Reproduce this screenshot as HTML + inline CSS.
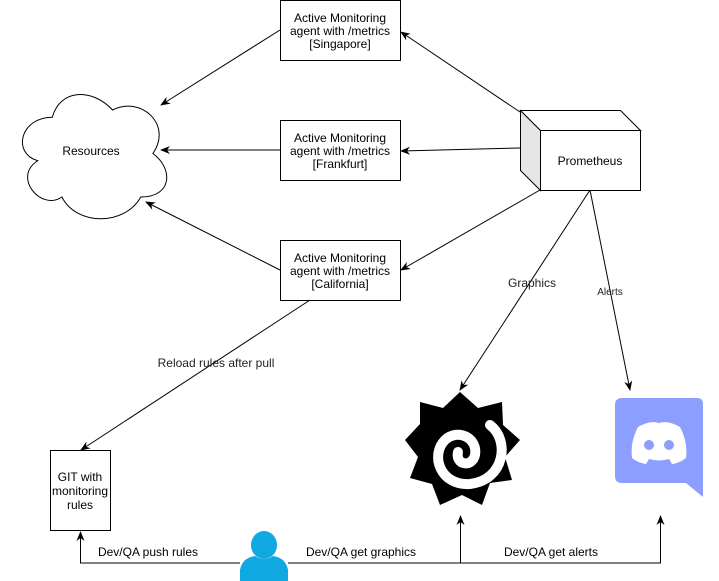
<!DOCTYPE html>
<html><head><meta charset="utf-8"><style>
html,body{margin:0;padding:0;background:#fff;}
svg{display:block;font-family:"Liberation Sans",Arial,sans-serif;}
</style></head><body>
<svg width="719" height="581" viewBox="0 0 719 581" xmlns="http://www.w3.org/2000/svg">
<defs>
<marker id="a" markerWidth="10" markerHeight="10" refX="9" refY="5" orient="auto" markerUnits="userSpaceOnUse">
<path d="M0,1 L10,5 L0,9 L3,5 Z" fill="#000"/>
</marker>
</defs>
<g fill="none" stroke="#000" stroke-width="1">
<path d="M52.25,117.25 C20.05,117.25 12,153.5 37.76,160.75 C12,176.7 40.98,211.5 61.91,197 C76.4,226 124.7,226 140.8,197 C173,197 173,168 152.9,153.5 C173,124.5 140.8,95.5 112.6,110 C92.5,88.25 60.3,88.25 52.25,117.25 Z" fill="#fff"/>
<rect x="280.5" y="0.5" width="120" height="60" fill="#fff"/>
<rect x="280.5" y="120.5" width="120" height="60" fill="#fff"/>
<rect x="280.5" y="240.5" width="120" height="60" fill="#fff"/>
<rect x="50.5" y="450.5" width="60" height="80" fill="#fff"/>
<path d="M520.5,110.5 L540.5,130.5 L540.5,190.5 L520.5,170.5 Z" fill="#e6e6e6"/>
<path d="M520.5,110.5 L620.5,110.5 L640.5,130.5 L540.5,130.5 Z" fill="#fff"/>
<rect x="540.5" y="130.5" width="100" height="60" fill="#fff"/>
<line x1="280" y1="30" x2="161" y2="105" marker-end="url(#a)"/>
<line x1="280" y1="150" x2="161" y2="150" marker-end="url(#a)"/>
<line x1="280" y1="270" x2="146" y2="202" marker-end="url(#a)"/>
<line x1="520" y1="112" x2="401" y2="32" marker-end="url(#a)"/>
<line x1="520" y1="148" x2="401" y2="151" marker-end="url(#a)"/>
<line x1="540" y1="190" x2="401" y2="270" marker-end="url(#a)"/>
<line x1="590" y1="190" x2="460" y2="390" marker-end="url(#a)"/>
<line x1="590" y1="190" x2="630" y2="390" marker-end="url(#a)"/>
<line x1="310" y1="300" x2="81" y2="450" marker-end="url(#a)"/>
<polyline points="240,563 80.5,563 80.5,532" marker-end="url(#a)"/>
<polyline points="288,563 660.5,563 660.5,516" marker-end="url(#a)"/>
<line x1="460.5" y1="563" x2="460.5" y2="516" marker-end="url(#a)"/>
</g>
<g>
<polygon points="460,392 478,408 502,402 503,425 520,440 505,457 512,480 490,483 482,505 462,495 440,505 432,484 410,478 418,457 405,440 420,424 420,402 443,408" fill="#000"/>
<path d="M490,425 C510,440 505,480 470,484 C440,486 430,455 445,440 C458,428 478,438 475,455 C472,468 455,465 458,452" fill="none" stroke="#fff" stroke-width="10" stroke-linecap="round"/>
</g>
<g>
<path d="M622,398 L697,398 Q703,398 703,404 L703,497 L686,483 L622,483 Q615,483 615,476 L615,405 Q615,398 622,398 Z" fill="#8c9eff"/>
<path d="M638,427 Q650,420 659,423 Q668,420 680,427 Q688,442 686,458 Q680,463 672,464 L669,459 Q659,462 649,459 L646,464 Q638,463 632,458 Q630,442 638,427 Z" fill="#fff"/>
<circle cx="649" cy="445" r="5" fill="#8c9eff"/>
<circle cx="669" cy="445" r="5" fill="#8c9eff"/>
</g>
<g fill="#10a8e0">
<ellipse cx="264" cy="545" rx="13" ry="14"/>
<path d="M240,581 L240,570 Q242,558 255,556 Q264,562 273,556 Q286,558 288,570 L288,581 Z"/>
</g>
<g font-size="12" fill="#000" text-anchor="middle">
<text x="340" y="22">Active Monitoring</text>
<text x="340" y="35">agent with /metrics</text>
<text x="340" y="48">[Singapore]</text>
<text x="340" y="142">Active Monitoring</text>
<text x="340" y="155">agent with /metrics</text>
<text x="340" y="168">[Frankfurt]</text>
<text x="340" y="262">Active Monitoring</text>
<text x="340" y="275">agent with /metrics</text>
<text x="340" y="288">[California]</text>
<text x="91" y="155">Resources</text>
<text x="590" y="165">Prometheus</text>
<text x="80" y="481">GIT with</text>
<text x="80" y="495">monitoring</text>
<text x="80" y="509">rules</text>
<text x="532" y="287" fill="#222">Graphics</text>
<text x="216" y="367" fill="#222">Reload rules after pull</text>
<text x="148" y="556">Dev/QA push rules</text>
<text x="361" y="556">Dev/QA get graphics</text>
<text x="551" y="556">Dev/QA get alerts</text>
</g>
<text x="610" y="295" font-size="10" text-anchor="middle" fill="#222">Alerts</text>
</svg>
</body></html>
